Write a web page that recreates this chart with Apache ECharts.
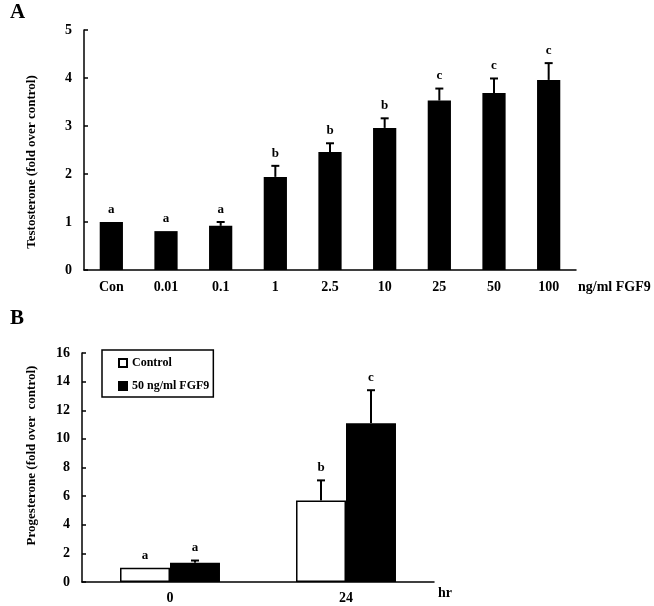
<!DOCTYPE html>
<html>
<head>
<meta charset="utf-8">
<script src="https://cdn.jsdelivr.net/npm/echarts@6/dist/echarts.min.js"></script>
<style>
html,body{margin:0;padding:0;background:#fff;}
#chart{width:654px;height:606px;}
</style>
</head>
<body>
<div id="chart"></div>
<script>
// ---------- Data ----------
var doseLabels = ['Con', '0.01', '0.1', '1', '2.5', '10', '25', '50', '100'];
var testoMean = [1.0, 0.81, 0.92, 1.94, 2.46, 2.96, 3.53, 3.69, 3.96];
var testoErr = [0, 0, 0.08, 0.23, 0.18, 0.20, 0.25, 0.30, 0.35];
var testoLetters = ['a', 'a', 'a', 'b', 'b', 'b', 'c', 'c', 'c'];
var testoTicks = [0, 1, 2, 3, 4, 5];

var timeLabels = ['0', '24'];
var ctrlMean = [1.0, 5.7];
var ctrlErr = [0, 1.4];
var ctrlLetters = ['a', 'b'];
var fgfMean = [1.35, 11.1];
var fgfErr = [0.15, 2.3];
var fgfLetters = ['a', 'c'];
var progTicks = [0, 2, 4, 6, 8, 10, 12, 14, 16];

// ---------- Style ----------
var FONT = 'Liberation Serif';
var BAR_B_FRAC = 0.284;

function errRender(offsetSign, frac) {
  return function (params, api) {
    var idx = api.value(0), v = api.value(1), e = api.value(2);
    var letter = api.value(3);
    var base = api.coord([idx, v]);
    var top = api.coord([idx, v + e]);
    var dx = 0;
    if (offsetSign !== 0) {
      var cw = api.size([1, 0])[0];
      dx = offsetSign * cw * frac / 2;
    }
    var x = base[0] + dx;
    var children = [];
    if (e > 0) {
      children.push({type: 'line', shape: {x1: x, y1: base[1], x2: x, y2: top[1]},
        style: {stroke: '#000', lineWidth: 2}});
      children.push({type: 'line', shape: {x1: x - 4, y1: top[1], x2: x + 4, y2: top[1]},
        style: {stroke: '#000', lineWidth: 2}});
    }
    children.push({type: 'text', x: x, y: top[1] - 6,
      style: {text: letter, textAlign: 'center', textVerticalAlign: 'bottom',
        font: 'bold 13px "' + FONT + '"', fill: '#000'}});
    return {type: 'group', children: children};
  };
}

function mkData(means, errs, letters) {
  return means.map(function (m, i) { return [i, m, errs[i], letters[i]]; });
}

var axisLineStyle = {lineStyle: {color: '#000', width: 1.5}};
var labelStyle = {color: '#000', fontFamily: FONT, fontWeight: 'bold', fontSize: 14};

var chart = echarts.init(document.getElementById('chart'), null, {renderer: 'canvas'});
chart.setOption({
  backgroundColor: '#fff',
  animation: false,
  title: [
    {text: 'A', left: 10, top: 2, padding: 0, textStyle: {fontFamily: FONT, fontWeight: 'bold', fontSize: 21, color: '#000'}},
    {text: 'B', left: 10, top: 308, padding: 0, textStyle: {fontFamily: FONT, fontWeight: 'bold', fontSize: 21, color: '#000'}}
  ],
  legend: {
    data: ['Control', '50 ng/ml FGF9'],
    orient: 'vertical',
    left: 102, top: 350,
    padding: [7, 4, 5, 16],
    itemGap: 11,
    itemWidth: 8, itemHeight: 8,
    icon: 'rect',
    borderColor: '#000', borderWidth: 1.5,
    textStyle: {fontFamily: FONT, fontWeight: 'bold', fontSize: 12, color: '#000'}
  },
  grid: [
    {left: 84, top: 30, width: 492, height: 240},
    {left: 82, top: 353, width: 352, height: 229}
  ],
  xAxis: [
    {gridIndex: 0, type: 'category', data: doseLabels,
      axisLine: axisLineStyle,
      axisTick: {inside: true, length: 4, lineStyle: {color: '#000', width: 1.5}},
      axisLabel: Object.assign({margin: 10}, labelStyle),
      name: 'ng/ml FGF9', nameLocation: 'end', nameGap: 2,
      nameTextStyle: {fontFamily: FONT, fontWeight: 'bold', fontSize: 14, color: '#000',
        align: 'left', verticalAlign: 'top', padding: [10, 0, 0, 0]}},
    {gridIndex: 1, type: 'category', data: timeLabels,
      axisLine: axisLineStyle,
      axisTick: {inside: true, length: 4, lineStyle: {color: '#000', width: 1.5}},
      axisLabel: Object.assign({margin: 9}, labelStyle),
      name: 'hr', nameLocation: 'end', nameGap: 4,
      nameTextStyle: {fontFamily: FONT, fontWeight: 'bold', fontSize: 14, color: '#000',
        align: 'left', verticalAlign: 'top', padding: [4, 0, 0, 0]}}
  ],
  yAxis: [
    {gridIndex: 0, type: 'value', min: testoTicks[0], max: testoTicks[testoTicks.length - 1], interval: 1,
      splitLine: {show: false},
      axisLine: {show: true, lineStyle: {color: '#000', width: 1.5}},
      axisTick: {show: true, inside: true, length: 4, lineStyle: {color: '#000', width: 1.5}},
      axisLabel: Object.assign({margin: 12}, labelStyle),
      name: 'Testosterone (fold over control)', nameLocation: 'middle', nameRotate: 90, nameGap: 46,
      nameTextStyle: {fontFamily: FONT, fontWeight: 'bold', fontSize: 13, color: '#000', padding: [0, 24, 0, 0]}},
    {gridIndex: 1, type: 'value', min: progTicks[0], max: progTicks[progTicks.length - 1], interval: 2,
      splitLine: {show: false},
      axisLine: {show: true, lineStyle: {color: '#000', width: 1.5}},
      axisTick: {show: true, inside: true, length: 4, lineStyle: {color: '#000', width: 1.5}},
      axisLabel: Object.assign({margin: 12}, labelStyle),
      name: 'Progesterone (fold over  control)', nameLocation: 'middle', nameRotate: 90, nameGap: 44,
      nameTextStyle: {fontFamily: FONT, fontWeight: 'bold', fontSize: 13, color: '#000', padding: [0, 0, 0, 24]}}
  ],
  series: [
    {type: 'bar', name: 'Testosterone', xAxisIndex: 0, yAxisIndex: 0, data: testoMean,
      barWidth: '42.5%', itemStyle: {color: '#000'}},
    {type: 'custom', xAxisIndex: 0, yAxisIndex: 0, data: mkData(testoMean, testoErr, testoLetters),
      renderItem: errRender(0, 0), z: 5, silent: true},
    {type: 'bar', name: 'Control', xAxisIndex: 1, yAxisIndex: 1, data: ctrlMean,
      barWidth: (BAR_B_FRAC * 100) + '%', barGap: '0%',
      itemStyle: {color: '#fff', borderColor: '#000', borderWidth: 1.5}},
    {type: 'bar', name: '50 ng/ml FGF9', xAxisIndex: 1, yAxisIndex: 1, data: fgfMean,
      barWidth: (BAR_B_FRAC * 100) + '%', barGap: '0%',
      itemStyle: {color: '#000', borderColor: '#000', borderWidth: 1.5}},
    {type: 'custom', xAxisIndex: 1, yAxisIndex: 1, data: mkData(ctrlMean, ctrlErr, ctrlLetters),
      renderItem: errRender(-1, BAR_B_FRAC), z: 5, silent: true},
    {type: 'custom', xAxisIndex: 1, yAxisIndex: 1, data: mkData(fgfMean, fgfErr, fgfLetters),
      renderItem: errRender(1, BAR_B_FRAC), z: 5, silent: true}
  ]
});
</script>
</body>
</html>
